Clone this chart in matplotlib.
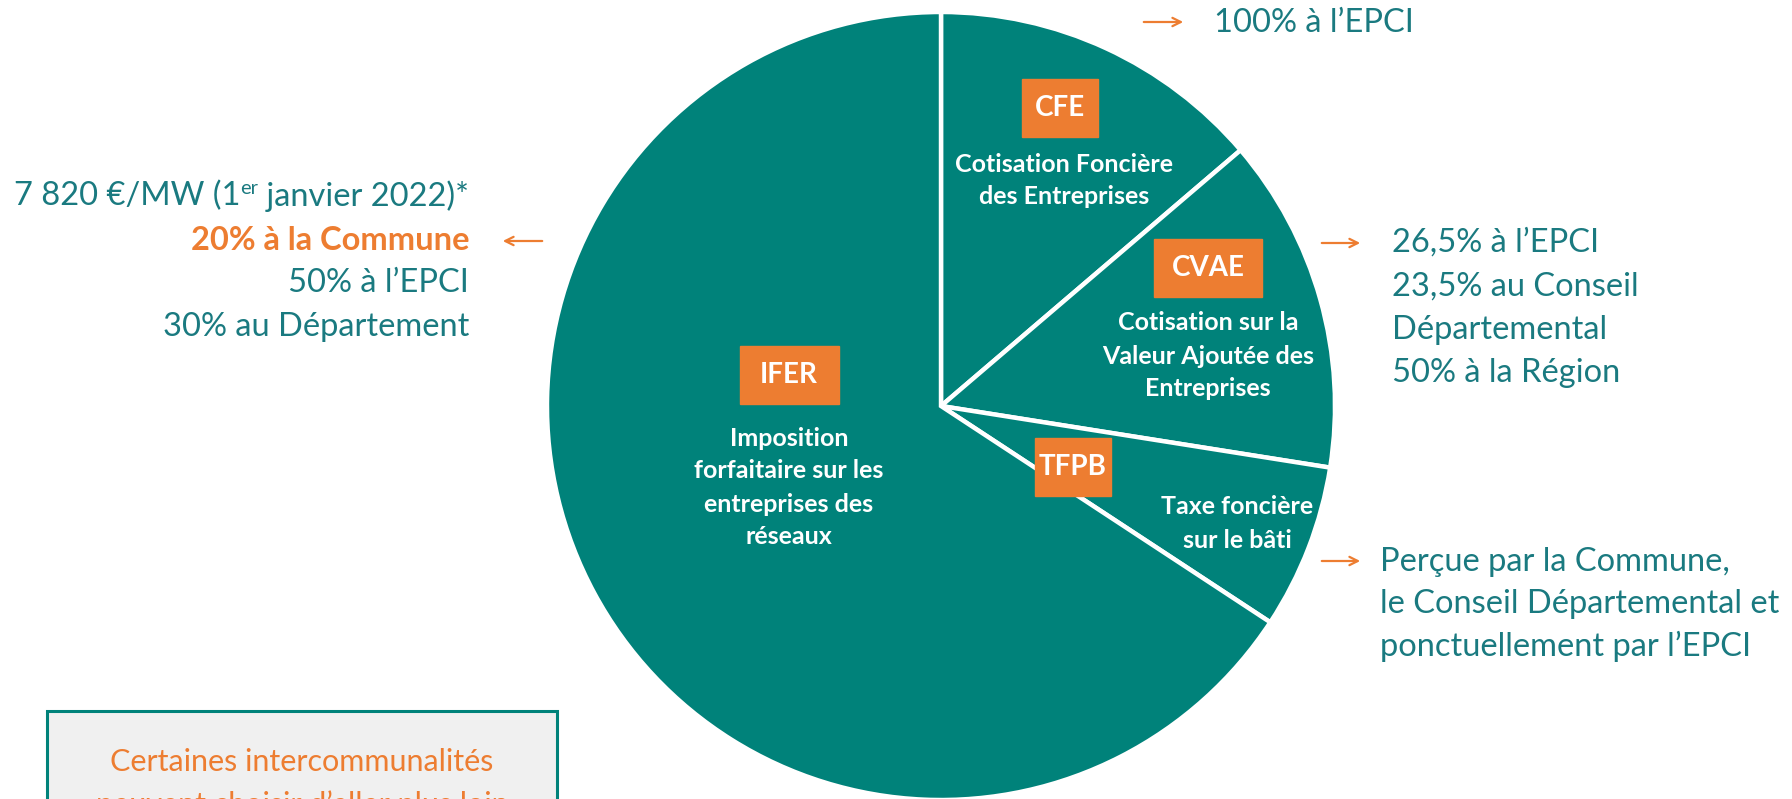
import matplotlib
matplotlib.use("Agg")
import matplotlib.pyplot as plt
from matplotlib.patches import Rectangle

plt.rcParams["font.family"] = ["Lato", "DejaVu Sans"]

W, H = 1792, 799
TEAL = "#00827A"
TEXT_TEAL = "#1A7A80"
ORANGE = "#ED7D31"

# pie slices, clockwise from 12 o'clock
taxes = ["CFE", "CVAE", "TFPB", "IFER"]
shares = [13.75, 13.75, 6.75, 65.75]
names = [
    ["Cotisation Foncière", "des Entreprises"],
    ["Cotisation sur la", "Valeur Ajoutée des", "Entreprises"],
    ["Taxe foncière", "sur le bâti"],
    ["Imposition", "forfaitaire sur les", "entreprises des", "réseaux"],
]
shares_text = {
    "CFE": ["100% à l’EPCI"],
    "CVAE": ["26,5% à l’EPCI", "23,5% au Conseil", "Départemental", "50% à la Région"],
    "TFPB": ["Perçue par la Commune,", "le Conseil Départemental et", "ponctuellement par l’EPCI"],
}
ifer_rate = ["7 820 €/MW (1", "er", " janvier 2022)*"]
ifer_split = ["20% à la Commune", "50% à l’EPCI", "30% au Département"]
note = ["Certaines intercommunalités", "peuvent choisir d’aller plus loin"]


def Y(y):
    return H - y


fig = plt.figure(figsize=(W / 100, H / 100), dpi=100)
ax = fig.add_axes([0, 0, 1, 1])

ax.pie(shares, startangle=90, counterclock=False, colors=[TEAL] * len(shares),
       center=(941, Y(406)), radius=394,
       wedgeprops=dict(edgecolor="white", linewidth=3.2))
ax.set_xlim(0, W)
ax.set_ylim(0, H)
ax.set_aspect("equal")
ax.axis("off")

renderer = fig.canvas.get_renderer()


def lines(x, y0, step, txt, **kw):
    for i, s in enumerate(txt):
        ax.text(x, Y(y0 + i * step), s, va="center", **kw)


def tag(cx, cy, w, label):
    ax.text(cx, Y(cy), label, ha="center", va="center", color="white",
            fontsize=20, fontweight="bold", zorder=5)
    ax.add_patch(Rectangle((cx - w / 2, Y(cy) - 29), w, 58, color=ORANGE, zorder=4))


inner = dict(color="white", fontsize=18, fontweight="bold")

# tags and names inside the pie
tag(1060, 108, 76, taxes[0])
lines(1064, 164, 32.5, names[0], ha="center", **inner)
tag(1208, 268, 108, taxes[1])
lines(1208, 323, 33, names[1], ha="center", **inner)
tag(1073, 467, 76, taxes[2])
lines(1237, 507, 33, names[2], ha="center", **inner)
tag(789, 375, 99, taxes[3])
lines(789, 438, 33, names[3], ha="center", **inner)

# arrows
arrow = dict(arrowstyle="->,head_length=0.6,head_width=0.3", color=ORANGE, lw=1.6)
ax.annotate("", xy=(1186, Y(22)), xytext=(1141, Y(22)), arrowprops=arrow)
ax.annotate("", xy=(1363, Y(243)), xytext=(1319, Y(243)), arrowprops=arrow)
ax.annotate("", xy=(1363, Y(561)), xytext=(1319, Y(561)), arrowprops=arrow)
ax.annotate("", xy=(500, Y(241)), xytext=(545, Y(241)), arrowprops=arrow)

big = dict(color=TEXT_TEAL, fontsize=23.5)

# shares, right side
lines(1214, 23, 43.5, shares_text["CFE"], ha="left", **big)
lines(1392, 243, 43.5, shares_text["CVAE"], ha="left", **big)
lines(1380, 562, 42, shares_text["TFPB"], ha="left", **big)

# IFER, left side (right aligned, with superscript)
t3 = ax.text(469, Y(196), ifer_rate[2], ha="right", va="center", **big)
x3 = t3.get_window_extent(renderer).x0
t2 = ax.text(x3, Y(188), ifer_rate[1], ha="right", va="center", color=TEXT_TEAL, fontsize=14.5)
x2 = t2.get_window_extent(renderer).x0
ax.text(x2, Y(196), ifer_rate[0], ha="right", va="center", **big)
ax.text(469, Y(240), ifer_split[0], ha="right", va="center", color=ORANGE, fontsize=23.5,
        fontweight="bold")
lines(469, 283.5, 43.5, ifer_split[1:], ha="right", **big)

# note box at bottom left (runs off the bottom edge)
ax.add_patch(Rectangle((47, Y(880)), 510, 880 - 711, facecolor="#F0F0F0",
                       edgecolor=TEAL, linewidth=2.2, zorder=2))
lines(302, 762, 43, note, ha="center", color=ORANGE, fontsize=22, zorder=3)

fig.savefig("out.png", dpi=100)
